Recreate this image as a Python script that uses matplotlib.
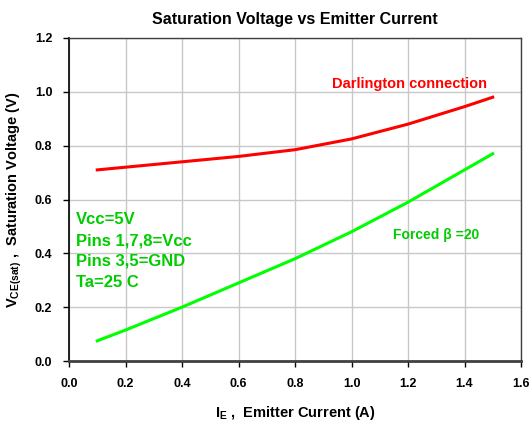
import matplotlib
matplotlib.use("Agg")
import matplotlib.pyplot as plt

plt.rcParams['font.family'] = ['Liberation Sans', 'DejaVu Sans']
plt.rcParams['font.weight'] = 'bold'
plt.rcParams['mathtext.fontset'] = 'custom'
plt.rcParams['mathtext.bf'] = 'Liberation Sans:bold'
plt.rcParams['mathtext.rm'] = 'Liberation Sans:bold'

# data
ie = [0.1, 0.2, 0.4, 0.6, 0.8, 1.0, 1.2, 1.4, 1.5]
v_darlington = [0.71, 0.72, 0.74, 0.76, 0.785, 0.825, 0.88, 0.945, 0.98]
v_forced = [0.075, 0.115, 0.20, 0.29, 0.38, 0.48, 0.59, 0.71, 0.77]

x_ticks = [0.0, 0.2, 0.4, 0.6, 0.8, 1.0, 1.2, 1.4, 1.6]
y_ticks = [0.0, 0.2, 0.4, 0.6, 0.8, 1.0, 1.2]

fig = plt.figure(figsize=(5.31, 4.21), dpi=100)
ax = fig.add_axes([69 / 531, 1 - 361 / 421, (521 - 69) / 531, (361 - 38) / 421])

ax.plot(ie, v_darlington, color='#ff0000', lw=2.2)
ax.plot(ie, v_forced, color='#00ff00', lw=2.2)

ax.set_xlim(0, 1.6)
ax.set_ylim(0, 1.2)
ax.set_xticks(x_ticks)
ax.set_yticks(y_ticks)
ax.set_xticklabels([f"{t:.1f}" for t in x_ticks], fontsize=9, fontweight='bold')
ax.set_yticklabels([f"{t:.1f}" for t in y_ticks], fontsize=9, fontweight='bold')
ax.grid(color='#c8c8c8', lw=1)
ax.set_axisbelow(True)
ax.tick_params(direction='out', length=4, width=1, pad=8)

for s in ['top', 'right']:
    ax.spines[s].set_color('#404040')
    ax.spines[s].set_linewidth(1)
ax.spines['left'].set_color('black')
ax.spines['left'].set_linewidth(1.2)
ax.spines['bottom'].set_color('#404040')
ax.spines['bottom'].set_linewidth(2)

ax.set_title("Saturation Voltage vs Emitter Current", fontsize=11.5, fontweight='bold', pad=10)
ax.set_xlabel(r"I$_\mathbf{E}$ ,  Emitter Current (A)", fontsize=10.5, fontweight='bold', labelpad=10)
ax.set_ylabel(r"V$_\mathbf{CE(sat)}$ ,  Saturation Voltage (V)", fontsize=10.5, fontweight='bold', labelpad=8)

ax.text(1.207, 1.03, "Darlington connection", color='#ff0000', fontsize=10.5,
        fontweight='bold', ha='center', va='center')
ax.text(1.30, 0.468, "Forced β =20", color='#00cc00', fontsize=10,
        fontweight='bold', ha='center', va='center')
for txt, yy in zip(["Vcc=5V", "Pins 1,7,8=Vcc", "Pins 3,5=GND", "Ta=25 C"],
                   [0.524, 0.447, 0.37, 0.29]):
    ax.text(0.025, yy, txt, color='#00cc00', fontsize=12, fontweight='bold',
            ha='left', va='center')

fig.savefig("out.png", dpi=100)
